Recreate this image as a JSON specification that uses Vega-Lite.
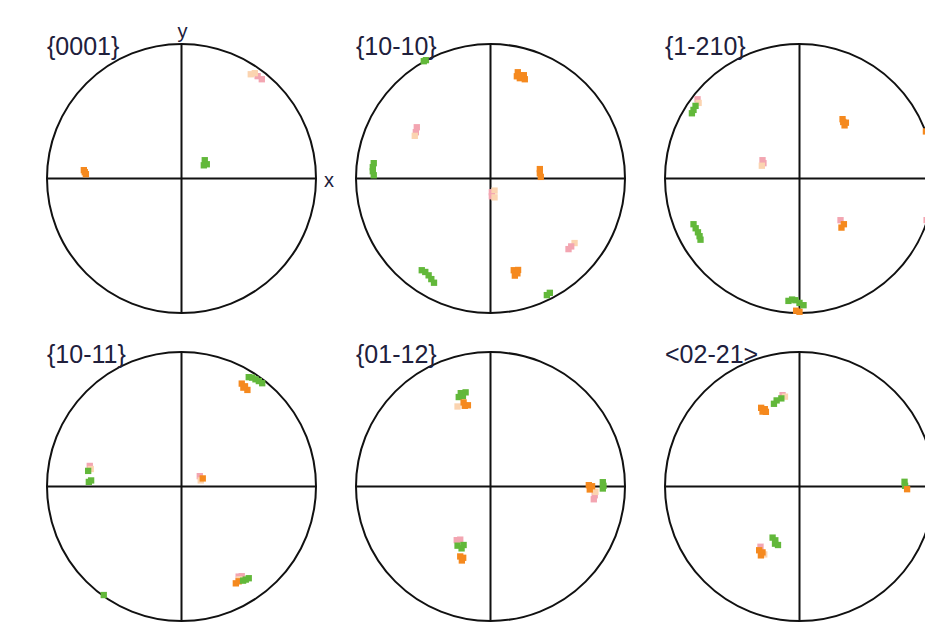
{
  "$schema": "https://vega.github.io/schema/vega-lite/v6.json",
  "background": "#ffffff",
  "padding": {"left": 43, "top": 22, "right": 0, "bottom": 0},
  "datasets": {
    "poles": [
      {"figure": "{0001}", "kind": "circle", "x": 0, "y": 0},
      {"figure": "{0001}", "kind": "axis", "x": -1, "y": 0, "x2": 1, "y2": 0},
      {"figure": "{0001}", "kind": "axis", "x": 0, "y": -1, "x2": 0, "y2": 1},
      {"figure": "{0001}", "kind": "label", "x": -1, "y": 1, "text": "{0001}"},
      {"figure": "{0001}", "kind": "xname", "x": 1, "y": 0, "text": "x"},
      {"figure": "{0001}", "kind": "yname", "x": 0, "y": 1, "text": "y"},
      {"figure": "{0001}", "kind": "pole", "grain": "peach", "x": 0.515, "y": 0.775},
      {"figure": "{0001}", "kind": "pole", "grain": "pink", "x": 0.566, "y": 0.761},
      {"figure": "{0001}", "kind": "pole", "grain": "pink", "x": 0.597, "y": 0.738},
      {"figure": "{0001}", "kind": "pole", "grain": "peach", "x": 0.545, "y": 0.783},
      {"figure": "{0001}", "kind": "pole", "grain": "green", "x": 0.173, "y": 0.136},
      {"figure": "{0001}", "kind": "pole", "grain": "green", "x": 0.188, "y": 0.106},
      {"figure": "{0001}", "kind": "pole", "grain": "green", "x": 0.166, "y": 0.098},
      {"figure": "{0001}", "kind": "pole", "grain": "orange", "x": -0.726, "y": 0.062},
      {"figure": "{0001}", "kind": "pole", "grain": "orange", "x": -0.711, "y": 0.032},
      {"figure": "{0001}", "kind": "pole", "grain": "orange", "x": -0.719, "y": 0.047},

      {"figure": "{10-10}", "kind": "circle", "x": 0, "y": 0},
      {"figure": "{10-10}", "kind": "axis", "x": -1, "y": 0, "x2": 1, "y2": 0},
      {"figure": "{10-10}", "kind": "axis", "x": 0, "y": -1, "x2": 0, "y2": 1},
      {"figure": "{10-10}", "kind": "label", "x": -1, "y": 1, "text": "{10-10}"},
      {"figure": "{10-10}", "kind": "pole", "grain": "green", "x": -0.496, "y": 0.872},
      {"figure": "{10-10}", "kind": "pole", "grain": "green", "x": -0.48, "y": 0.88},
      {"figure": "{10-10}", "kind": "pole", "grain": "orange", "x": 0.203, "y": 0.79},
      {"figure": "{10-10}", "kind": "pole", "grain": "orange", "x": 0.248, "y": 0.768},
      {"figure": "{10-10}", "kind": "pole", "grain": "orange", "x": 0.218, "y": 0.746},
      {"figure": "{10-10}", "kind": "pole", "grain": "orange", "x": 0.255, "y": 0.738},
      {"figure": "{10-10}", "kind": "pole", "grain": "orange", "x": 0.196, "y": 0.76},
      {"figure": "{10-10}", "kind": "pole", "grain": "orange", "x": 0.228, "y": 0.765},
      {"figure": "{10-10}", "kind": "pole", "grain": "pink", "x": -0.548, "y": 0.381},
      {"figure": "{10-10}", "kind": "pole", "grain": "pink", "x": -0.555, "y": 0.344},
      {"figure": "{10-10}", "kind": "pole", "grain": "peach", "x": -0.563, "y": 0.317},
      {"figure": "{10-10}", "kind": "pole", "grain": "green", "x": -0.868, "y": 0.114},
      {"figure": "{10-10}", "kind": "pole", "grain": "green", "x": -0.875, "y": 0.084},
      {"figure": "{10-10}", "kind": "pole", "grain": "green", "x": -0.875, "y": 0.054},
      {"figure": "{10-10}", "kind": "pole", "grain": "green", "x": -0.868, "y": 0.024},
      {"figure": "{10-10}", "kind": "pole", "grain": "orange", "x": 0.367, "y": 0.07},
      {"figure": "{10-10}", "kind": "pole", "grain": "orange", "x": 0.367, "y": 0.039},
      {"figure": "{10-10}", "kind": "pole", "grain": "orange", "x": 0.374, "y": 0.012},
      {"figure": "{10-10}", "kind": "pole", "grain": "pink", "x": 0.01, "y": -0.102},
      {"figure": "{10-10}", "kind": "pole", "grain": "peach", "x": 0.03, "y": -0.09},
      {"figure": "{10-10}", "kind": "pole", "grain": "pink", "x": 0.01, "y": -0.132},
      {"figure": "{10-10}", "kind": "pole", "grain": "peach", "x": 0.03, "y": -0.14},
      {"figure": "{10-10}", "kind": "pole", "grain": "peach", "x": 0.625, "y": -0.48},
      {"figure": "{10-10}", "kind": "pole", "grain": "pink", "x": 0.6, "y": -0.505},
      {"figure": "{10-10}", "kind": "pole", "grain": "pink", "x": 0.58, "y": -0.525},
      {"figure": "{10-10}", "kind": "pole", "grain": "orange", "x": 0.173, "y": -0.682},
      {"figure": "{10-10}", "kind": "pole", "grain": "orange", "x": 0.2, "y": -0.705},
      {"figure": "{10-10}", "kind": "pole", "grain": "orange", "x": 0.181, "y": -0.722},
      {"figure": "{10-10}", "kind": "pole", "grain": "orange", "x": 0.205, "y": -0.68},
      {"figure": "{10-10}", "kind": "pole", "grain": "green", "x": -0.511, "y": -0.682},
      {"figure": "{10-10}", "kind": "pole", "grain": "green", "x": -0.485, "y": -0.695},
      {"figure": "{10-10}", "kind": "pole", "grain": "green", "x": -0.46, "y": -0.72},
      {"figure": "{10-10}", "kind": "pole", "grain": "green", "x": -0.44, "y": -0.748},
      {"figure": "{10-10}", "kind": "pole", "grain": "green", "x": -0.42, "y": -0.775},
      {"figure": "{10-10}", "kind": "pole", "grain": "green", "x": 0.419, "y": -0.867},
      {"figure": "{10-10}", "kind": "pole", "grain": "green", "x": 0.441, "y": -0.85},

      {"figure": "{1-210}", "kind": "circle", "x": 0, "y": 0},
      {"figure": "{1-210}", "kind": "axis", "x": -1, "y": 0, "x2": 1, "y2": 0},
      {"figure": "{1-210}", "kind": "axis", "x": 0, "y": -1, "x2": 0, "y2": 1},
      {"figure": "{1-210}", "kind": "label", "x": -1, "y": 1, "text": "{1-210}"},
      {"figure": "{1-210}", "kind": "pole", "grain": "pink", "x": -0.758, "y": 0.589},
      {"figure": "{1-210}", "kind": "pole", "grain": "peach", "x": -0.75, "y": 0.562},
      {"figure": "{1-210}", "kind": "pole", "grain": "green", "x": -0.8, "y": 0.485},
      {"figure": "{1-210}", "kind": "pole", "grain": "green", "x": -0.788, "y": 0.51},
      {"figure": "{1-210}", "kind": "pole", "grain": "green", "x": -0.773, "y": 0.54},
      {"figure": "{1-210}", "kind": "pole", "grain": "orange", "x": 0.32, "y": 0.441},
      {"figure": "{1-210}", "kind": "pole", "grain": "orange", "x": 0.345, "y": 0.415},
      {"figure": "{1-210}", "kind": "pole", "grain": "orange", "x": 0.335, "y": 0.395},
      {"figure": "{1-210}", "kind": "pole", "grain": "orange", "x": 0.325, "y": 0.42},
      {"figure": "{1-210}", "kind": "pole", "grain": "pink", "x": -0.275, "y": 0.136},
      {"figure": "{1-210}", "kind": "pole", "grain": "pink", "x": -0.268, "y": 0.114},
      {"figure": "{1-210}", "kind": "pole", "grain": "peach", "x": -0.28, "y": 0.095},
      {"figure": "{1-210}", "kind": "pole", "grain": "green", "x": -0.788, "y": -0.34},
      {"figure": "{1-210}", "kind": "pole", "grain": "green", "x": -0.772, "y": -0.37},
      {"figure": "{1-210}", "kind": "pole", "grain": "green", "x": -0.755, "y": -0.4},
      {"figure": "{1-210}", "kind": "pole", "grain": "green", "x": -0.743, "y": -0.429},
      {"figure": "{1-210}", "kind": "pole", "grain": "green", "x": -0.736, "y": -0.455},
      {"figure": "{1-210}", "kind": "pole", "grain": "pink", "x": 0.305, "y": -0.31},
      {"figure": "{1-210}", "kind": "pole", "grain": "orange", "x": 0.312, "y": -0.365},
      {"figure": "{1-210}", "kind": "pole", "grain": "orange", "x": 0.33, "y": -0.34},
      {"figure": "{1-210}", "kind": "pole", "grain": "orange", "x": -0.025, "y": -0.983},
      {"figure": "{1-210}", "kind": "pole", "grain": "orange", "x": 0.0, "y": -0.991},
      {"figure": "{1-210}", "kind": "pole", "grain": "green", "x": -0.082, "y": -0.91},
      {"figure": "{1-210}", "kind": "pole", "grain": "green", "x": -0.055, "y": -0.9},
      {"figure": "{1-210}", "kind": "pole", "grain": "green", "x": -0.03, "y": -0.905},
      {"figure": "{1-210}", "kind": "pole", "grain": "green", "x": 0.0, "y": -0.925},
      {"figure": "{1-210}", "kind": "pole", "grain": "green", "x": 0.03, "y": -0.942},
      {"figure": "{1-210}", "kind": "pole", "grain": "orange", "x": 0.94, "y": 0.35},
      {"figure": "{1-210}", "kind": "pole", "grain": "pink", "x": 0.945, "y": -0.31},

      {"figure": "{10-11}", "kind": "circle", "x": 0, "y": 0},
      {"figure": "{10-11}", "kind": "axis", "x": -1, "y": 0, "x2": 1, "y2": 0},
      {"figure": "{10-11}", "kind": "axis", "x": 0, "y": -1, "x2": 0, "y2": 1},
      {"figure": "{10-11}", "kind": "label", "x": -1, "y": 1, "text": "{10-11}"},
      {"figure": "{10-11}", "kind": "pole", "grain": "green", "x": 0.5, "y": 0.813},
      {"figure": "{10-11}", "kind": "pole", "grain": "green", "x": 0.525, "y": 0.81},
      {"figure": "{10-11}", "kind": "pole", "grain": "green", "x": 0.55, "y": 0.797},
      {"figure": "{10-11}", "kind": "pole", "grain": "green", "x": 0.575, "y": 0.784},
      {"figure": "{10-11}", "kind": "pole", "grain": "green", "x": 0.6, "y": 0.768},
      {"figure": "{10-11}", "kind": "pole", "grain": "orange", "x": 0.448, "y": 0.765},
      {"figure": "{10-11}", "kind": "pole", "grain": "orange", "x": 0.472, "y": 0.745},
      {"figure": "{10-11}", "kind": "pole", "grain": "orange", "x": 0.49, "y": 0.718},
      {"figure": "{10-11}", "kind": "pole", "grain": "orange", "x": 0.46, "y": 0.735},
      {"figure": "{10-11}", "kind": "pole", "grain": "pink", "x": -0.682, "y": 0.153},
      {"figure": "{10-11}", "kind": "pole", "grain": "peach", "x": -0.675, "y": 0.13},
      {"figure": "{10-11}", "kind": "pole", "grain": "green", "x": -0.694, "y": 0.116},
      {"figure": "{10-11}", "kind": "pole", "grain": "green", "x": -0.689, "y": 0.034},
      {"figure": "{10-11}", "kind": "pole", "grain": "green", "x": -0.672, "y": 0.045},
      {"figure": "{10-11}", "kind": "pole", "grain": "pink", "x": 0.136, "y": 0.077},
      {"figure": "{10-11}", "kind": "pole", "grain": "peach", "x": 0.143, "y": 0.045},
      {"figure": "{10-11}", "kind": "pole", "grain": "orange", "x": 0.158, "y": 0.06},
      {"figure": "{10-11}", "kind": "pole", "grain": "pink", "x": 0.425, "y": -0.67},
      {"figure": "{10-11}", "kind": "pole", "grain": "pink", "x": 0.448, "y": -0.667},
      {"figure": "{10-11}", "kind": "pole", "grain": "peach", "x": 0.43, "y": -0.69},
      {"figure": "{10-11}", "kind": "pole", "grain": "orange", "x": 0.404, "y": -0.72},
      {"figure": "{10-11}", "kind": "pole", "grain": "orange", "x": 0.425, "y": -0.705},
      {"figure": "{10-11}", "kind": "pole", "grain": "green", "x": 0.458, "y": -0.7},
      {"figure": "{10-11}", "kind": "pole", "grain": "green", "x": 0.478, "y": -0.692},
      {"figure": "{10-11}", "kind": "pole", "grain": "green", "x": 0.5, "y": -0.682},
      {"figure": "{10-11}", "kind": "pole", "grain": "green", "x": -0.578, "y": -0.807},

      {"figure": "{01-12}", "kind": "circle", "x": 0, "y": 0},
      {"figure": "{01-12}", "kind": "axis", "x": -1, "y": 0, "x2": 1, "y2": 0},
      {"figure": "{01-12}", "kind": "axis", "x": 0, "y": -1, "x2": 0, "y2": 1},
      {"figure": "{01-12}", "kind": "label", "x": -1, "y": 1, "text": "{01-12}"},
      {"figure": "{01-12}", "kind": "pole", "grain": "green", "x": -0.221, "y": 0.694},
      {"figure": "{01-12}", "kind": "pole", "grain": "green", "x": -0.185, "y": 0.7},
      {"figure": "{01-12}", "kind": "pole", "grain": "green", "x": -0.236, "y": 0.665},
      {"figure": "{01-12}", "kind": "pole", "grain": "green", "x": -0.205, "y": 0.672},
      {"figure": "{01-12}", "kind": "pole", "grain": "peach", "x": -0.245, "y": 0.595},
      {"figure": "{01-12}", "kind": "pole", "grain": "orange", "x": -0.191, "y": 0.6},
      {"figure": "{01-12}", "kind": "pole", "grain": "orange", "x": -0.168, "y": 0.604},
      {"figure": "{01-12}", "kind": "pole", "grain": "orange", "x": -0.2, "y": 0.625},
      {"figure": "{01-12}", "kind": "pole", "grain": "pink", "x": 0.775, "y": -0.065},
      {"figure": "{01-12}", "kind": "pole", "grain": "pink", "x": 0.768, "y": -0.095},
      {"figure": "{01-12}", "kind": "pole", "grain": "peach", "x": 0.78, "y": -0.04},
      {"figure": "{01-12}", "kind": "pole", "grain": "orange", "x": 0.731, "y": 0.01},
      {"figure": "{01-12}", "kind": "pole", "grain": "orange", "x": 0.755, "y": 0.002},
      {"figure": "{01-12}", "kind": "pole", "grain": "orange", "x": 0.738, "y": -0.022},
      {"figure": "{01-12}", "kind": "pole", "grain": "green", "x": 0.835, "y": 0.032},
      {"figure": "{01-12}", "kind": "pole", "grain": "green", "x": 0.84, "y": 0.005},
      {"figure": "{01-12}", "kind": "pole", "grain": "green", "x": 0.835, "y": -0.015},
      {"figure": "{01-12}", "kind": "pole", "grain": "pink", "x": -0.251, "y": -0.399},
      {"figure": "{01-12}", "kind": "pole", "grain": "pink", "x": -0.225, "y": -0.395},
      {"figure": "{01-12}", "kind": "pole", "grain": "green", "x": -0.245, "y": -0.44},
      {"figure": "{01-12}", "kind": "pole", "grain": "green", "x": -0.215, "y": -0.46},
      {"figure": "{01-12}", "kind": "pole", "grain": "green", "x": -0.2, "y": -0.435},
      {"figure": "{01-12}", "kind": "pole", "grain": "orange", "x": -0.225, "y": -0.52},
      {"figure": "{01-12}", "kind": "pole", "grain": "orange", "x": -0.203, "y": -0.53},
      {"figure": "{01-12}", "kind": "pole", "grain": "orange", "x": -0.213, "y": -0.55},

      {"figure": "<02-21>", "kind": "circle", "x": 0, "y": 0},
      {"figure": "<02-21>", "kind": "axis", "x": -1, "y": 0, "x2": 1, "y2": 0},
      {"figure": "<02-21>", "kind": "axis", "x": 0, "y": -1, "x2": 0, "y2": 1},
      {"figure": "<02-21>", "kind": "label", "x": -1, "y": 1, "text": "<02-21>"},
      {"figure": "<02-21>", "kind": "pole", "grain": "orange", "x": -0.285, "y": 0.585},
      {"figure": "<02-21>", "kind": "pole", "grain": "orange", "x": -0.258, "y": 0.575},
      {"figure": "<02-21>", "kind": "pole", "grain": "orange", "x": -0.275, "y": 0.557},
      {"figure": "<02-21>", "kind": "pole", "grain": "orange", "x": -0.25, "y": 0.555},
      {"figure": "<02-21>", "kind": "pole", "grain": "pink", "x": -0.126, "y": 0.679},
      {"figure": "<02-21>", "kind": "pole", "grain": "peach", "x": -0.108, "y": 0.668},
      {"figure": "<02-21>", "kind": "pole", "grain": "green", "x": -0.19, "y": 0.615},
      {"figure": "<02-21>", "kind": "pole", "grain": "green", "x": -0.17, "y": 0.64},
      {"figure": "<02-21>", "kind": "pole", "grain": "green", "x": -0.135, "y": 0.655},
      {"figure": "<02-21>", "kind": "pole", "grain": "green", "x": 0.781, "y": 0.035},
      {"figure": "<02-21>", "kind": "pole", "grain": "green", "x": 0.785, "y": 0.005},
      {"figure": "<02-21>", "kind": "pole", "grain": "orange", "x": 0.8, "y": -0.02},
      {"figure": "<02-21>", "kind": "pole", "grain": "green", "x": -0.2, "y": -0.38},
      {"figure": "<02-21>", "kind": "pole", "grain": "green", "x": -0.18, "y": -0.4},
      {"figure": "<02-21>", "kind": "pole", "grain": "green", "x": -0.16, "y": -0.435},
      {"figure": "<02-21>", "kind": "pole", "grain": "green", "x": -0.182, "y": -0.425},
      {"figure": "<02-21>", "kind": "pole", "grain": "pink", "x": -0.29, "y": -0.448},
      {"figure": "<02-21>", "kind": "pole", "grain": "peach", "x": -0.262, "y": -0.505},
      {"figure": "<02-21>", "kind": "pole", "grain": "orange", "x": -0.3, "y": -0.474},
      {"figure": "<02-21>", "kind": "pole", "grain": "orange", "x": -0.275, "y": -0.49},
      {"figure": "<02-21>", "kind": "pole", "grain": "orange", "x": -0.287, "y": -0.512}
    ]
  },
  "data": {"name": "poles"},
  "facet": {
    "field": "figure",
    "type": "nominal",
    "sort": ["{0001}", "{10-10}", "{1-210}", "{10-11}", "{01-12}", "<02-21>"],
    "title": null,
    "header": {"title": null, "labels": false, "labelExpr": "''", "labelFontSize": 0, "labelPadding": 0}
  },
  "columns": 3,
  "spacing": {"row": 39, "column": 40},
  "bounds": "flush",
  "spec": {
    "width": 269,
    "height": 269,
    "encoding": {
      "x": {"field": "x", "type": "quantitative", "scale": {"domain": [-1, 1], "nice": false, "zero": false}, "axis": null},
      "y": {"field": "y", "type": "quantitative", "scale": {"domain": [-1, 1], "nice": false, "zero": false}, "axis": null}
    },
    "layer": [
      {
        "transform": [{"filter": "datum.kind === 'axis'"}],
        "mark": {"type": "rule", "color": "#111111", "strokeWidth": 2},
        "encoding": {
          "x2": {"field": "x2"},
          "y2": {"field": "y2"}
        }
      },
      {
        "transform": [{"filter": "datum.kind === 'circle'"}],
        "mark": {"type": "point", "shape": "circle", "size": 72361, "filled": false, "stroke": "#111111", "strokeWidth": 2, "opacity": 1}
      },
      {
        "transform": [{"filter": "datum.kind === 'pole'"}],
        "mark": {"type": "point", "shape": "square", "filled": true, "size": 40, "opacity": 1},
        "encoding": {
          "color": {
            "field": "grain",
            "type": "nominal",
            "scale": {"domain": ["orange", "green", "pink", "peach"], "range": ["#f5891e", "#62b83a", "#f3a5b1", "#fbd4b0"]},
            "legend": null
          }
        }
      },
      {
        "transform": [{"filter": "datum.kind === 'label'"}],
        "mark": {"type": "text", "align": "left", "baseline": "alphabetic", "dx": 0, "dy": 11, "font": "Liberation Sans", "fontSize": 25, "color": "#20203c"},
        "encoding": {"text": {"field": "text"}}
      },
      {
        "transform": [{"filter": "datum.kind === 'xname'"}],
        "mark": {"type": "text", "align": "left", "baseline": "alphabetic", "dx": 8, "dy": 8, "font": "Liberation Sans", "fontSize": 20, "color": "#20203c"},
        "encoding": {"text": {"field": "text"}}
      },
      {
        "transform": [{"filter": "datum.kind === 'yname'"}],
        "mark": {"type": "text", "align": "center", "baseline": "alphabetic", "dx": 1, "dy": -6, "font": "Liberation Sans", "fontSize": 20, "color": "#20203c"},
        "encoding": {"text": {"field": "text"}}
      }
    ]
  },
  "config": {"view": {"stroke": null}, "header": {"labels": false, "title": null}}
}
